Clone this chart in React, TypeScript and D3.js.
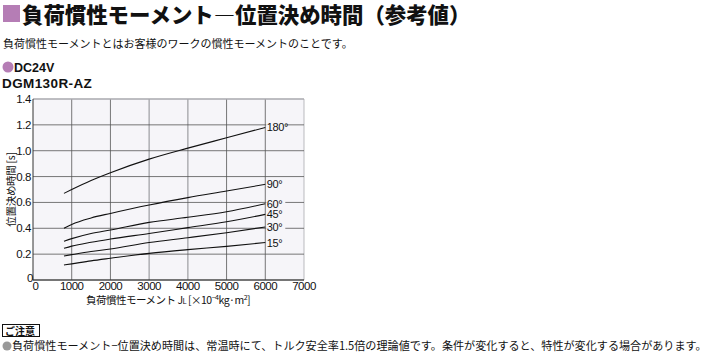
import React from "react";
import * as d3 from "d3";

const xTicks = [0, 1000, 2000, 3000, 4000, 5000, 6000, 7000];
const yTicks = [0, 0.2, 0.4, 0.6, 0.8, 1.0, 1.2, 1.4];
const inertia = [800, 1000, 1500, 2000, 3000, 4000, 5000, 6000];
const s180 = [0.67, 0.70, 0.77, 0.83, 0.935, 1.02, 1.10, 1.18];
const s90 = [0.40, 0.43, 0.48, 0.515, 0.58, 0.637, 0.688, 0.74];
const s60 = [0.30, 0.32, 0.36, 0.387, 0.446, 0.485, 0.528, 0.59];
const s45 = [0.245, 0.262, 0.292, 0.317, 0.36, 0.405, 0.45, 0.508];
const s30 = [0.186, 0.196, 0.22, 0.24, 0.29, 0.327, 0.366, 0.41];
const s15 = [0.116, 0.125, 0.148, 0.168, 0.206, 0.235, 0.26, 0.29];
const seriesLabels = ["180°", "90°", "60°", "45°", "30°", "15°"];
const seriesValues = [s180, s90, s60, s45, s30, s15];

const PINK = "#b57db5";
const FONT = "'Liberation Sans', Arial, sans-serif";
const JP = "'Noto Sans CJK JP', sans-serif";

export default function App() {
  const x = d3.scaleLinear().domain([0, 7000]).range([33, 304]);
  const y = d3.scaleLinear().domain([0, 1.4]).range([280, 99]);
  const line = d3
    .line<[number, number]>()
    .x((d) => x(d[0]))
    .y((d) => y(d[1]))
    .curve(d3.curveMonotoneX);

  return (
    <svg
      width={709}
      height={356}
      style={{ position: "absolute", left: 0, top: 0, background: "#fff" }}
    >
      {/* Title */}
      <rect x={3} y={5} width={17} height={17} fill={PINK} />
      <text x={22} y={22.5} fontFamily={JP} fontWeight={900} fontSize={21.4} fill="#111">
        負荷慣性モーメント―位置決め時間（参考値）
      </text>
      <text x={3} y={48} fontFamily={JP} fontSize={11} fill="#111">
        負荷慣性モーメントとはお客様のワークの慣性モーメントのことです。
      </text>
      <circle cx={8} cy={67} r={5.5} fill={PINK} />
      <text x={14} y={71.5} fontFamily={FONT} fontWeight={700} fontSize={12.5} fill="#111">
        DC24V
      </text>
      <text x={2} y={88} fontFamily={FONT} fontWeight={700} fontSize={13.5} fill="#111" letterSpacing={0.4}>
        DGM130R-AZ
      </text>

      {/* Plot background */}
      <rect x={x(0)} y={y(1.4)} width={x(7000) - x(0)} height={y(0) - y(1.4)} fill="#f6f5f9" />
      {/* vertical grid */}
      {xTicks.slice(1).map((t) => (
        <line
          key={"vx" + t}
          x1={x(t)}
          x2={x(t)}
          y1={y(1.4)}
          y2={y(0)}
          stroke={t === 3000 || t === 4000 || t === 7000 ? "#a9a9ae" : "#555"}
          strokeWidth={t === 3000 || t === 4000 ? 1.4 : 0.8}
        />
      ))}
      {/* horizontal grid */}
      {yTicks.map((t) => (
        <line
          key={"hy" + t}
          x1={x(0)}
          x2={x(7000)}
          y1={y(t)}
          y2={y(t)}
          stroke={t === 1.4 ? "#a9a9ae" : "#555"}
          strokeWidth={t === 1.4 ? 1.3 : 0.8}
        />
      ))}
      <line x1={x(0)} x2={x(0)} y1={y(1.4)} y2={y(0)} stroke="#333" strokeWidth={1} />
      <line x1={x(0)} x2={x(7000)} y1={y(0)} y2={y(0)} stroke="#333" strokeWidth={1} />

      {/* curves */}
      {seriesValues.map((vals, i) => {
        const pts = inertia.map((v, j) => [v, vals[j]] as [number, number]);
        const endY = y(vals[vals.length - 1]);
        return (
          <g key={seriesLabels[i]}>
            <path d={line(pts) || ""} fill="none" stroke="#111" strokeWidth={1.1} />
            <rect x={x(6000) + 1} y={endY - 6} width={19} height={11} fill="#f6f5f9" />
            <text x={x(6000) + 1.5} y={endY + 4} fontFamily={FONT} fontSize={11} fill="#111" letterSpacing={-0.4}>
              {seriesLabels[i]}
            </text>
          </g>
        );
      })}

      {/* y tick labels */}
      {yTicks.map((t) => (
        <text
          key={"yl" + t}
          x={t === 0 ? 33 : 31}
          y={t === 0 ? y(t) + 2 : y(t) + 4}
          textAnchor="end"
          fontFamily={FONT}
          fontSize={11.5}
          fill="#111"
          letterSpacing={-0.4}
        >
          {t === 0 ? "0" : d3.format(".1f")(t)}
        </text>
      ))}
      {/* x tick labels */}
      {xTicks.map((t) => (
        <text
          key={"xl" + t}
          x={t === 0 ? x(t) + 2.5 : x(t)}
          y={290}
          textAnchor="middle"
          fontFamily={FONT}
          fontSize={11.5}
          fill="#111"
          letterSpacing={-0.5}
        >
          {t}
        </text>
      ))}

      {/* axis titles */}
      <text
        transform={`translate(15,${(y(0) + y(1.4)) / 2}) rotate(-90)`}
        textAnchor="middle"
        fontFamily={JP}
        fontSize={10.5}
        fill="#111"
        letterSpacing={-0.3}
      >
        位置決め時間 [s]
      </text>
      <text x={86} y={303.5} fontFamily={JP} fontSize={10.5} fill="#111" letterSpacing={-0.5}>
        負荷慣性モーメント J
        <tspan fontSize={7.5}>L</tspan>
        <tspan> [×10</tspan>
        <tspan fontSize={7} dy={-4}>−4</tspan>
        <tspan dy={4}>kg·m</tspan>
        <tspan fontSize={7} dy={-4}>2</tspan>
        <tspan dy={4}>]</tspan>
      </text>

      {/* note */}
      <rect x={2.5} y={324.5} width={37} height={12} fill="#fff" stroke="#111" strokeWidth={1} />
      <text x={5} y={334.5} fontFamily={JP} fontWeight={700} fontSize={10} fill="#111">
        ご注意
      </text>
      <circle cx={7} cy={346} r={4.5} fill="#999" />
      <text x={12} y={350} fontFamily={JP} fontSize={11.1} fill="#111">
        負荷慣性モーメント−位置決め時間は、常温時にて、トルク安全率1.5倍の理論値です。条件が変化すると、特性が変化する場合があります。
      </text>
    </svg>
  );
}
